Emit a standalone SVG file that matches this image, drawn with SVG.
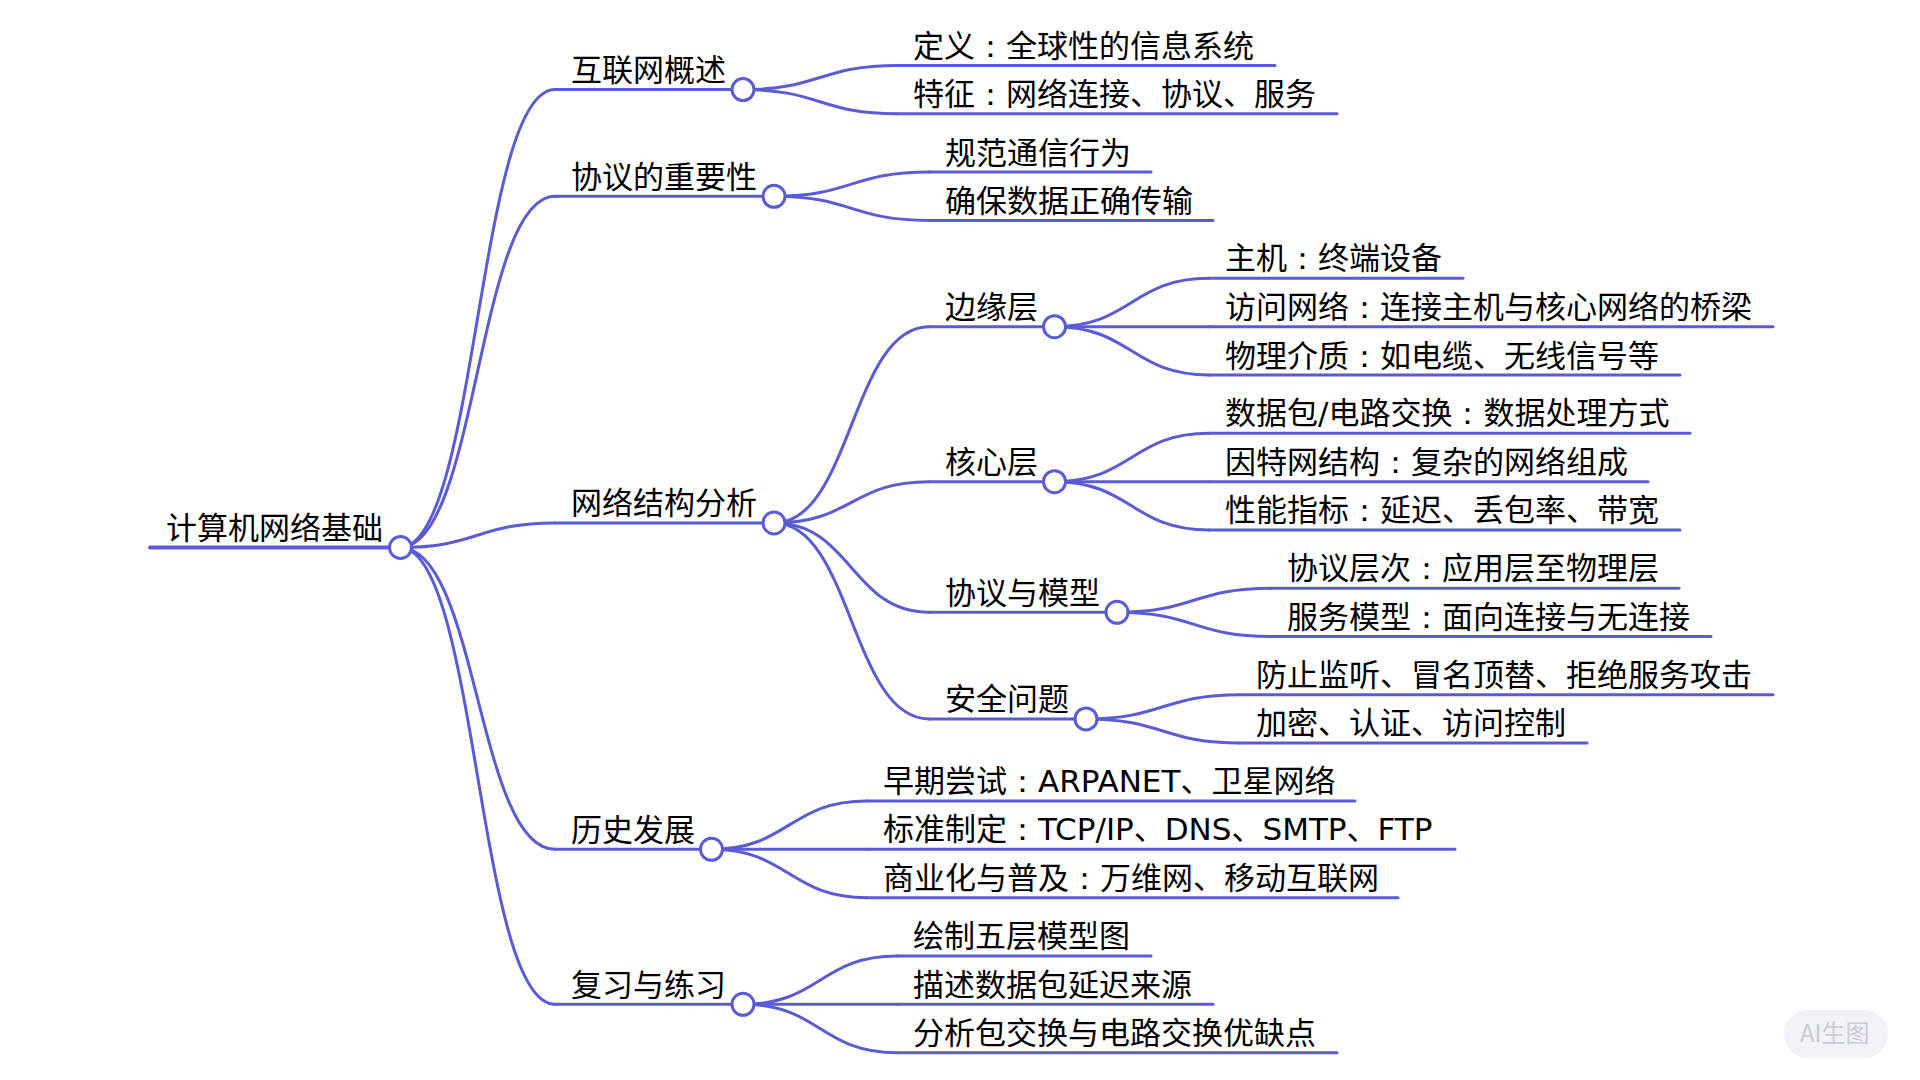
<svg xmlns="http://www.w3.org/2000/svg" width="1920" height="1080" viewBox="0 0 1920 1080">
<style>
.l{fill:none;stroke:#5b5bd6;stroke-width:3;stroke-linecap:round}
.r{stroke-width:4}
.c{fill:#fff;stroke:#5b5bd6;stroke-width:3}
text{font-family:"DejaVu Sans","Noto Sans CJK SC",sans-serif;font-size:31px;fill:#000}
.k{font-family:Roboto,"Open Sans",Lato,Inter,sans-serif}
</style>
<rect width="1920" height="1080" fill="#fff"/>
<g id="connectors">
<path class="l" d="M400 547.5C477.5 547.5 477.5 89.6 555 89.6"/>
<path class="l" d="M400 547.5C477.5 547.5 477.5 196.3 555 196.3"/>
<path class="l" d="M400 547.5C477.5 547.5 477.5 523 555 523"/>
<path class="l" d="M400 547.5C477.5 547.5 477.5 849.3 555 849.3"/>
<path class="l" d="M400 547.5C477.5 547.5 477.5 1004.3 555 1004.3"/>
<path class="l" d="M743 89.6C820 89.6 820 65.5 897 65.5"/>
<path class="l" d="M743 89.6C820 89.6 820 113.8 897 113.8"/>
<path class="l" d="M774 196.3C851.5 196.3 851.5 172 929 172"/>
<path class="l" d="M774 196.3C851.5 196.3 851.5 220.4 929 220.4"/>
<path class="l" d="M774 523C851.5 523 851.5 326.7 929 326.7"/>
<path class="l" d="M774 523C851.5 523 851.5 481.7 929 481.7"/>
<path class="l" d="M774 523C851.5 523 851.5 612.3 929 612.3"/>
<path class="l" d="M774 523C851.5 523 851.5 718.9 929 718.9"/>
<path class="l" d="M1054 326.7C1131.5 326.7 1131.5 278.3 1209 278.3"/>
<path class="l" d="M1054 326.7H1209"/>
<path class="l" d="M1054 326.7C1131.5 326.7 1131.5 375 1209 375"/>
<path class="l" d="M1054 481.7C1131.5 481.7 1131.5 433.3 1209 433.3"/>
<path class="l" d="M1054 481.7H1209"/>
<path class="l" d="M1054 481.7C1131.5 481.7 1131.5 530 1209 530"/>
<path class="l" d="M1117 612.3C1194 612.3 1194 588.2 1271 588.2"/>
<path class="l" d="M1117 612.3C1194 612.3 1194 636.5 1271 636.5"/>
<path class="l" d="M1086 718.9C1163 718.9 1163 694.7 1240 694.7"/>
<path class="l" d="M1086 718.9C1163 718.9 1163 743 1240 743"/>
<path class="l" d="M711 849.3C789 849.3 789 801 867 801"/>
<path class="l" d="M711 849.3H867"/>
<path class="l" d="M711 849.3C789 849.3 789 897.7 867 897.7"/>
<path class="l" d="M743 1004.3C820 1004.3 820 956 897 956"/>
<path class="l" d="M743 1004.3H897"/>
<path class="l" d="M743 1004.3C820 1004.3 820 1052.7 897 1052.7"/>
</g>
<g id="n0"><path class="l r" d="M150 547.5H400"/><circle class="c" cx="400.500" cy="547.5" r="11"/><text x="166" y="539">计算机网络基础</text></g>
<g id="n1"><path class="l" d="M555 89.6H743"/><circle class="c" cx="743" cy="89.6" r="11"/><text x="571" y="81">互联网概述</text></g>
<g id="n1a"><path class="l" d="M897 65.5H1275"/><text x="913" y="57">定义<tspan class="k">：</tspan>全球性的信息系统</text></g>
<g id="n1b"><path class="l" d="M897 113.8H1337"/><text x="913" y="105">特征<tspan class="k">：</tspan>网络连接、协议、服务</text></g>
<g id="n2"><path class="l" d="M555 196.3H774"/><circle class="c" cx="774" cy="196.3" r="11"/><text x="571" y="188">协议的重要性</text></g>
<g id="n2a"><path class="l" d="M929 172H1151"/><text x="945" y="164">规范通信行为</text></g>
<g id="n2b"><path class="l" d="M929 220.4H1213"/><text x="945" y="212">确保数据正确传输</text></g>
<g id="n3"><path class="l" d="M555 523H774"/><circle class="c" cx="774" cy="523" r="11"/><text x="571" y="514">网络结构分析</text></g>
<g id="n3a"><path class="l" d="M929 326.700H1054"/><circle class="c" cx="1054.500" cy="326.700" r="11"/><text x="945" y="318">边缘层</text></g>
<g id="n3a1"><path class="l" d="M1209 278.3H1463"/><text x="1225" y="269">主机<tspan class="k">：</tspan>终端设备</text></g>
<g id="n3a2"><path class="l" d="M1209 326.700H1773"/><text x="1225" y="318">访问网络<tspan class="k">：</tspan>连接主机与核心网络的桥梁</text></g>
<g id="n3a3"><path class="l" d="M1209 375H1680"/><text x="1225" y="367">物理介质<tspan class="k">：</tspan>如电缆、无线信号等</text></g>
<g id="n3b"><path class="l" d="M929 481.7H1054"/><circle class="c" cx="1054.500" cy="481.7" r="11"/><text x="945" y="473">核心层</text></g>
<g id="n3b1"><path class="l" d="M1209 433.3H1690"/><text x="1225" y="424">数据包/电路交换<tspan class="k">：</tspan>数据处理方式</text></g>
<g id="n3b2"><path class="l" d="M1209 481.7H1648"/><text x="1225" y="473">因特网结构<tspan class="k">：</tspan>复杂的网络组成</text></g>
<g id="n3b3"><path class="l" d="M1209 530H1680"/><text x="1225" y="521">性能指标<tspan class="k">：</tspan>延迟、丢包率、带宽</text></g>
<g id="n3c"><path class="l" d="M929 612.3H1117"/><circle class="c" cx="1117" cy="612.3" r="11"/><text x="945" y="604">协议与模型</text></g>
<g id="n3c1"><path class="l" d="M1271 588.2H1679"/><text x="1287" y="579">协议层次<tspan class="k">：</tspan>应用层至物理层</text></g>
<g id="n3c2"><path class="l" d="M1271 636.5H1711"/><text x="1287" y="628">服务模型<tspan class="k">：</tspan>面向连接与无连接</text></g>
<g id="n3d"><path class="l" d="M929 718.9H1086"/><circle class="c" cx="1086" cy="718.9" r="11"/><text x="945" y="710">安全问题</text></g>
<g id="n3d1"><path class="l" d="M1240 694.7H1773"/><text x="1256" y="686">防止监听、冒名顶替、拒绝服务攻击</text></g>
<g id="n3d2"><path class="l" d="M1240 743H1587"/><text x="1256" y="734">加密、认证、访问控制</text></g>
<g id="n4"><path class="l" d="M555 849.3H711"/><circle class="c" cx="711.500" cy="849.3" r="11"/><text x="571" y="841">历史发展</text></g>
<g id="n4a"><path class="l" d="M867 801H1355"/><text x="883" y="792">早期尝试<tspan class="k">：</tspan>ARPANET、卫星网络</text></g>
<g id="n4b"><path class="l" d="M867 849.3H1455"/><text x="883" y="840">标准制定<tspan class="k">：</tspan>TCP/IP、DNS、SMTP、FTP</text></g>
<g id="n4c"><path class="l" d="M867 897.7H1398"/><text x="883" y="889">商业化与普及<tspan class="k">：</tspan>万维网、移动互联网</text></g>
<g id="n5"><path class="l" d="M555 1004.3H743"/><circle class="c" cx="743" cy="1004.3" r="11"/><text x="571" y="996">复习与练习</text></g>
<g id="n5a"><path class="l" d="M897 956H1151"/><text x="913" y="947">绘制五层模型图</text></g>
<g id="n5b"><path class="l" d="M897 1004.3H1213"/><text x="913" y="996">描述数据包延迟来源</text></g>
<g id="n5c"><path class="l" d="M897 1052.7H1337"/><text x="913" y="1044">分析包交换与电路交换优缺点</text></g>
<g id="badge"><rect x="1784" y="1010" width="104" height="48" rx="24" fill="#f1f2f6"/><text x="1800" y="1042" style="font-size:24px;fill:#c9cbd8;font-family:'Noto Sans CJK SC',sans-serif">AI生图</text></g>
</svg>
